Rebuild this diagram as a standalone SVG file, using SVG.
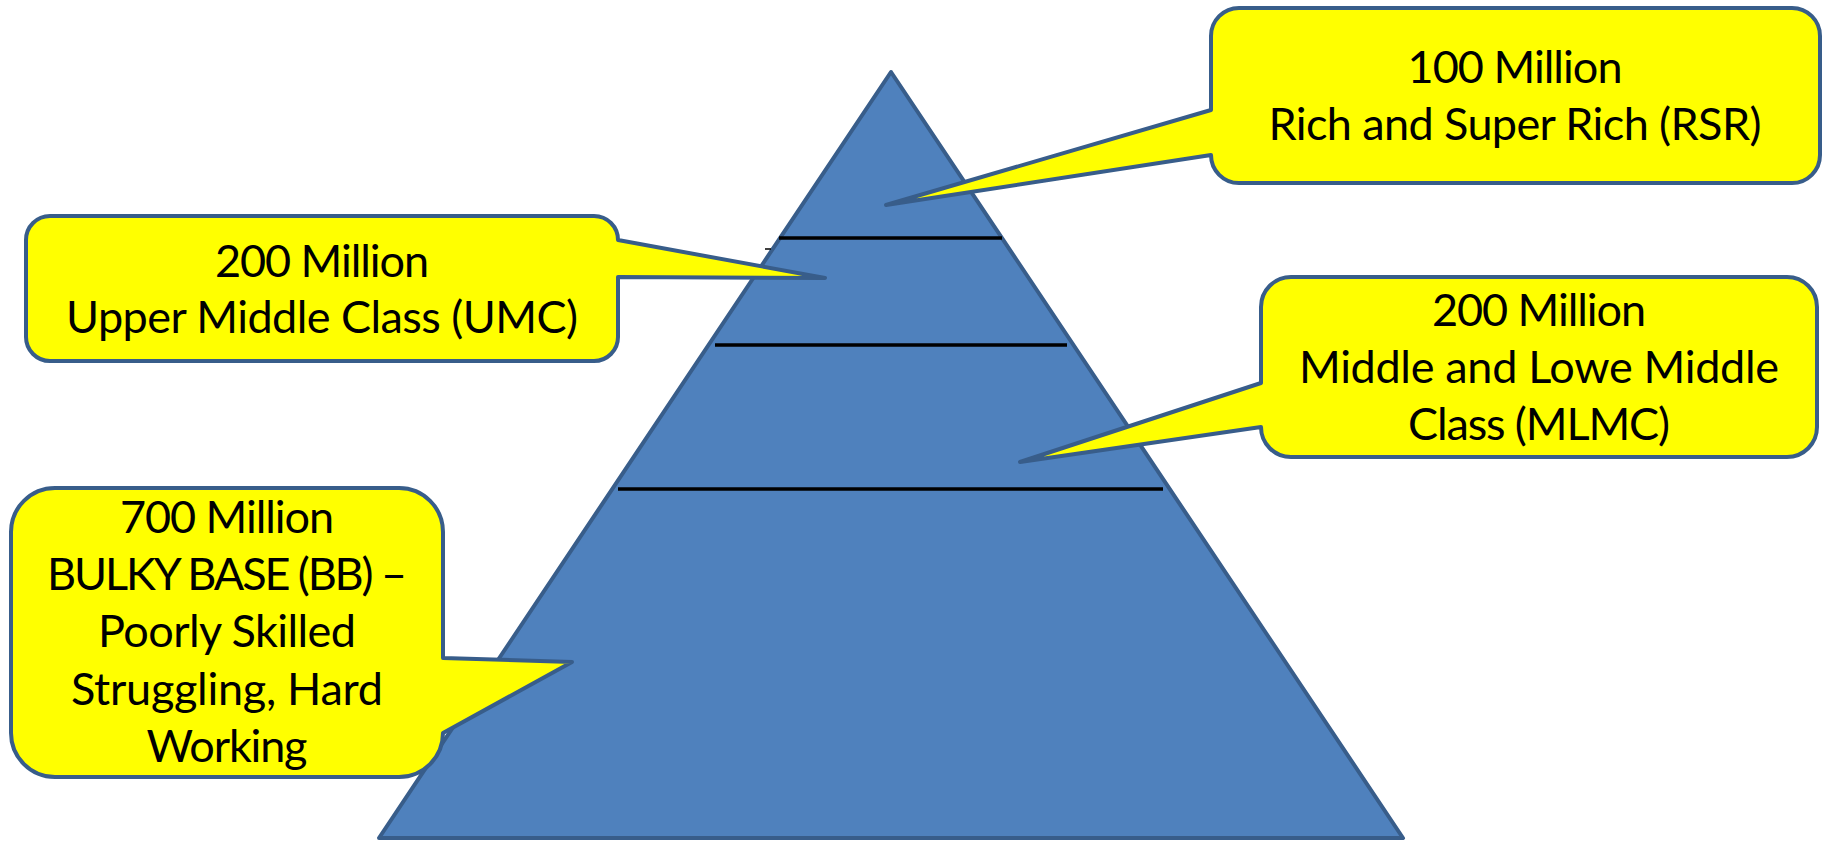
<svg xmlns="http://www.w3.org/2000/svg" width="1827" height="841" viewBox="0 0 1827 841">
<style>
.pyr{fill:#4F81BD;stroke:#385D8A;stroke-width:4;stroke-linejoin:round}
.sep{stroke:#000;stroke-width:3.5;fill:none}
.call{fill:#FFFF00;stroke:#385D8A;stroke-width:4;stroke-linejoin:round}
.t{font-family:Lato,"Liberation Sans",sans-serif;font-size:45px;fill:#000;text-anchor:middle}
</style>
<rect width="1827" height="841" fill="#fff"/>
<g id="pyramid">
<path class="pyr" d="M891,72 L1403,838 L379,838 Z"/>
<line class="sep" x1="779" y1="238" x2="1002" y2="238"/>
<line class="sep" x1="715" y1="345" x2="1067" y2="345"/>
<line class="sep" x1="618" y1="489" x2="1163" y2="489"/>
<line x1="765" y1="249" x2="771" y2="249" stroke="#000" stroke-width="1.5"/>
</g>
<g id="connectors"></g>
<g id="rsr">
<path class="call" d="M1239,8 H1792 A28,28 0 0 1 1820,36 V155 A28,28 0 0 1 1792,183 H1239 A28,28 0 0 1 1211,155 L886,205 L1211,110 V36 A28,28 0 0 1 1239,8 Z"/>
<text class="t" x="1515" y="83" textLength="215" lengthAdjust="spacing">100 Million</text>
<text class="t" x="1515" y="140" textLength="493" lengthAdjust="spacing">Rich and Super Rich (RSR)</text>
</g>
<g id="umc">
<path class="call" d="M50,216 H594 A24,24 0 0 1 618,240 L825,278 L618,277 V337 A24,24 0 0 1 594,361 H50 A24,24 0 0 1 26,337 V240 A24,24 0 0 1 50,216 Z"/>
<text class="t" x="322" y="277" textLength="214" lengthAdjust="spacing">200 Million</text>
<text class="t" x="322" y="333" textLength="512" lengthAdjust="spacing">Upper Middle Class (UMC)</text>
</g>
<g id="mlmc">
<path class="call" d="M1291,277 H1787 A30,30 0 0 1 1817,307 V427 A30,30 0 0 1 1787,457 H1291 A30,30 0 0 1 1261,427 L1020,462 L1261,383 V307 A30,30 0 0 1 1291,277 Z"/>
<text class="t" x="1539" y="326" textLength="214" lengthAdjust="spacing">200 Million</text>
<text class="t" x="1539" y="383" textLength="480" lengthAdjust="spacing">Middle and Lowe Middle</text>
<text class="t" x="1539" y="440" textLength="262" lengthAdjust="spacing">Class (MLMC)</text>
</g>
<g id="bb">
<path class="call" d="M55,488 H399 A44,44 0 0 1 443,532 V658 L572,662 L443,733 A44,44 0 0 1 399,777 H55 A44,44 0 0 1 11,733 V532 A44,44 0 0 1 55,488 Z"/>
<text class="t" x="227" y="533" textLength="214" lengthAdjust="spacing">700 Million</text>
<text class="t" x="227" y="590" textLength="360" lengthAdjust="spacing">BULKY BASE (BB) –</text>
<text class="t" x="227" y="647" textLength="258" lengthAdjust="spacing">Poorly Skilled</text>
<text class="t" x="227" y="705" textLength="312" lengthAdjust="spacing">Struggling, Hard</text>
<text class="t" x="227" y="762" textLength="161" lengthAdjust="spacing">Working</text>
</g>
</svg>
